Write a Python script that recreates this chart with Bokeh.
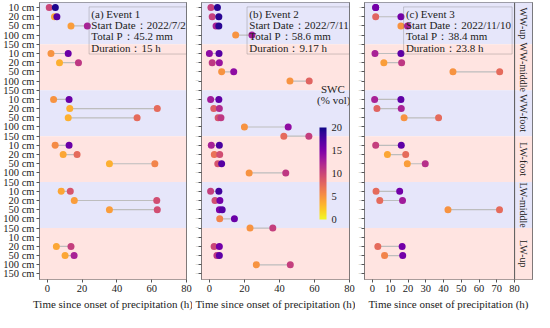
import numpy as np
from bokeh.plotting import figure
from bokeh.layouts import row
from bokeh.models import (ColumnDataSource, Range1d, FixedTicker, BoxAnnotation, Label,
                          LinearColorMapper, ColorBar, Span)
from bokeh.palettes import Plasma256
from bokeh.transform import transform
from bokeh.core.properties import value
from bokeh.embed import file_html
from bokeh.resources import INLINE

# ---------------- data ----------------
groups = ["WW-up", "WW-middle", "WW-foot", "LW-foot", "LW-middle", "LW-up"]
depths = ["10 cm", "20 cm", "50 cm", "100 cm", "150 cm"]
x_ticks_ab = [0, 20, 40, 60, 80]
x_ticks_c = [0, 10, 20, 30, 40, 50, 60, 70, 80]
swc_ticks = [0, 5, 10, 15, 20]

event_titles = ["(a) Event 1", "(b) Event 2", "(c) Event 3"]
start_dates = ["2022/7/2", "2022/7/11", "2022/11/10"]
total_p = ["45.2", "58.6", "38.4"]
durations = ["15", "9.17", "23.8"]

# Event 1
e1_group = ["WW-up", "WW-up", "WW-up", "WW-middle", "WW-middle", "WW-foot", "WW-foot", "WW-foot",
            "LW-foot", "LW-foot", "LW-foot", "LW-middle", "LW-middle", "LW-middle", "LW-up", "LW-up"]
e1_depth = ["10 cm", "20 cm", "50 cm", "10 cm", "20 cm", "10 cm", "20 cm", "50 cm",
            "10 cm", "20 cm", "50 cm", "10 cm", "20 cm", "50 cm", "20 cm", "50 cm"]
e1_t0 = [1.1, 4.1, 13.6, 2.1, 7.0, 3.6, 12.9, 12.0, 4.5, 9.1, 35.7, 8.0, 15.5, 35.7, 5.2, 10.2]
e1_t1 = [4.6, 5.5, 23.0, 12.0, 17.9, 12.5, 63.2, 51.6, 12.5, 17.1, 61.8, 13.2, 62.9, 63.2, 13.6, 15.4]
e1_s0 = [10, 4, 4.5, 5, 3.5, 5, 3.5, 3.5, 5.5, 4, 3.5, 4, 4.5, 4.5, 4, 4]
e1_s1 = [19.5, 17, 12.5, 16, 11, 16, 7.5, 7.5, 16, 7.5, 6, 9, 9.5, 9.5, 10.5, 12.5]

# Event 2
e2_group = ["WW-up", "WW-up", "WW-up", "WW-up",
            "WW-middle", "WW-middle", "WW-middle", "WW-middle",
            "WW-foot", "WW-foot", "WW-foot", "WW-foot", "WW-foot",
            "LW-foot", "LW-foot", "LW-foot", "LW-foot",
            "LW-middle", "LW-middle", "LW-middle", "LW-middle", "LW-middle",
            "LW-up", "LW-up", "LW-up"]
e2_depth = ["10 cm", "20 cm", "50 cm", "100 cm",
            "10 cm", "20 cm", "50 cm", "100 cm",
            "10 cm", "20 cm", "50 cm", "100 cm", "150 cm",
            "10 cm", "20 cm", "50 cm", "100 cm",
            "10 cm", "20 cm", "50 cm", "100 cm", "150 cm",
            "20 cm", "50 cm", "100 cm"]
e2_t0 = [0.9, 1.6, 3.8, 15.0, 0.0, 1.6, 7.0, 46.0, 0.7, 2.5, 5.0, 20.0, 42.5,
         1.1, 2.8, 4.8, 22.7, 0.7, 3.2, 5.7, 5.9, 23.2, 2.7, 4.3, 26.8]
e2_t1 = [4.6, 5.4, 5.4, 24.3, 5.5, 5.7, 13.9, 57.0, 5.4, 5.7, 6.6, 45.0, 56.8,
         5.7, 5.9, 7.0, 43.6, 5.4, 6.0, 7.3, 14.3, 36.2, 5.7, 5.7, 46.2]
e2_s0 = [10.5, 10.5, 12.5, 5, 14, 11, 5, 5, 13, 8.5, 9, 5, 7.5,
         12.5, 7, 9, 5, 10.5, 9.5, 15, 6, 5, 10, 11, 5]
e2_s1 = [19, 19, 19, 13, 17, 13.5, 14, 8, 16.5, 12, 11, 14, 10.5,
         17.5, 9.5, 17, 11, 18, 15.5, 17, 16, 10.5, 15.5, 16.5, 10.5]

# Event 3
e3_group = ["WW-up", "WW-up", "WW-up", "WW-middle", "WW-middle", "WW-middle",
            "WW-foot", "WW-foot", "WW-foot", "LW-foot", "LW-foot", "LW-foot",
            "LW-middle", "LW-middle", "LW-middle", "LW-up", "LW-up"]
e3_depth = ["10 cm", "20 cm", "50 cm", "10 cm", "20 cm", "50 cm",
            "10 cm", "20 cm", "50 cm", "10 cm", "20 cm", "50 cm",
            "10 cm", "20 cm", "50 cm", "20 cm", "50 cm"]
e3_t0 = [1.8, 1.8, 16.0, 1.4, 6.4, 45.3, 1.2, 2.5, 17.8, 1.8, 8.4, 19.6, 2.0, 4.1, 42.5, 3.0, 6.8]
e3_t1 = [1.8, 16.0, 19.7, 16.0, 16.4, 71.6, 16.0, 16.2, 37.2, 16.2, 18.7, 29.7, 15.3, 16.9, 71.5, 16.7, 17.0]
e3_s0 = [15.5, 8, 5, 12.5, 4.5, 5, 12.5, 8, 5, 10.5, 4, 4.5, 7.5, 7.5, 5, 7.5, 6]
e3_s1 = [15.5, 15.5, 12.5, 16.5, 11, 7.5, 16.5, 12.5, 7.5, 16.5, 7.5, 11.5, 15.5, 13, 7.5, 15.5, 15.5]

# ---------------- styling ----------------
FONT = "Liberation Serif"
XMIN, XMAX = -4.5, 80
Y_TOP, Y_BOT = -0.55, 29.6
BAND_COLORS = ["#e6e6fa", "#ffe4e1"]
EDGE = "#555555"
mapper = LinearColorMapper(palette=list(reversed(Plasma256)), low=0, high=20)


def rows_of(gs, ds):
    return [groups.index(g) * len(depths) + depths.index(d) for g, d in zip(gs, ds)]


def make_panel(width, border_left, border_right, xticks, gs, ds, t0, t1, s0, s1, idx,
               strip_units=0.0, ylabels=False, box_left=30.0, box_right=80.0):
    p = figure(width=width, height=312, output_backend="svg", toolbar_location=None,
               x_range=Range1d(XMIN, XMAX + strip_units), y_range=Range1d(Y_BOT, Y_TOP),
               min_border_left=border_left, min_border_right=border_right,
               min_border_top=2, min_border_bottom=0)
    p.background_fill_color = "white"
    p.border_fill_color = "white"
    p.outline_line_color = EDGE
    p.grid.visible = False

    # background bands
    n = len(depths)
    for g in range(len(groups)):
        top = n * g - 1 if g > 0 else Y_TOP - 1
        bot = n * g + n - 1 if g < len(groups) - 1 else Y_BOT + 1
        p.add_layout(BoxAnnotation(top=top, bottom=bot, fill_color=BAND_COLORS[g % 2],
                                   fill_alpha=1.0, line_color=None, level="underlay"))

    src = ColumnDataSource(dict(row=rows_of(gs, ds), t0=t0, t1=t1, s0=s0, s1=s1))
    p.segment(x0="t0", y0="row", x1="t1", y1="row", source=src,
              line_color="#bdbdbd", line_width=1.2)
    p.scatter(x="t0", y="row", source=src, size=7, line_color=None,
              fill_color=transform("s0", mapper))
    p.scatter(x="t1", y="row", source=src, size=7, line_color=None,
              fill_color=transform("s1", mapper))

    # axes
    p.xaxis.ticker = FixedTicker(ticks=xticks)
    p.xaxis.axis_label = "Time since onset of precipitation (h)"
    p.yaxis.ticker = FixedTicker(ticks=list(range(len(groups) * n)))
    p.yaxis.major_label_overrides = {i: depths[i % n] for i in range(len(groups) * n)}
    for ax in (p.xaxis, p.yaxis):
        ax.axis_line_color = None
        ax.major_tick_in = 0
        ax.major_tick_out = 3
        ax.major_tick_line_color = EDGE
        ax.minor_tick_line_color = None
        ax.major_label_text_font = FONT
        ax.major_label_text_font_size = "10.5px"
        ax.major_label_text_color = "#222222"
        ax.major_label_standoff = 2
    p.xaxis.axis_label_text_font = FONT
    p.xaxis.axis_label_text_font_size = "11px"
    p.xaxis.axis_label_text_font_style = "normal"
    p.xaxis.axis_label_text_color = "#222222"
    p.xaxis.axis_label_standoff = 3
    if not ylabels:
        p.yaxis.major_label_text_font_size = "1px"
        p.yaxis.major_label_text_color = "#777777"
        p.yaxis.major_label_standoff = 0

    # event info box
    p.add_layout(BoxAnnotation(left=box_left, right=box_right,
                               top=-0.07, bottom=5.06, fill_alpha=0.0,
                               line_color="#666666", line_width=1))
    lines = [event_titles[idx], "Start Date：" + start_dates[idx],
             "Total P：" + total_p[idx] + " mm", "Duration：" + durations[idx] + " h"]
    for txt, yy in zip(lines, [0.65, 1.88, 3.11, 4.44]):
        p.add_layout(Label(x=box_left + 1.3, y=yy, text=txt, text_font=FONT,
                           text_font_size="11px", text_color="#222222",
                           text_baseline="middle", text_align="left"))
    return p


STRIP_UNITS = 84.5 * 18 / 151

pa = make_panel(192, 34, 6, x_ticks_ab, e1_group, e1_depth, e1_t0, e1_t1, e1_s0, e1_s1, 0,
                ylabels=True, box_left=24.0)
pb = make_panel(163, 4, 6, x_ticks_ab, e2_group, e2_depth, e2_t0, e2_t1, e2_s0, e2_s1, 1,
                box_left=21.5)
pc = make_panel(178, 8, 1, x_ticks_c, e3_group, e3_depth, e3_t0, e3_t1, e3_s0, e3_s1, 2,
                strip_units=STRIP_UNITS, box_left=17.5, box_right=78.6)

# colour bar in panel b
cb = ColorBar(color_mapper=mapper, ticker=FixedTicker(ticks=swc_ticks), width=7, height=92,
              location=(118, 60), orientation="vertical", padding=0, margin=0,
              major_tick_line_color=None, bar_line_color=None,
              major_label_text_font=FONT, major_label_text_font_size="10.5px",
              major_label_text_color="#222222", label_standoff=5,
              background_fill_alpha=0.0, border_line_color=None)
pb.add_layout(cb, "center")
pb.add_layout(Label(x=70.5, y=8.85, text="SWC", text_font=FONT, text_font_size="11px",
                    text_align="center", text_baseline="middle", text_color="#222222"))
pb.add_layout(Label(x=71.0, y=10.05, text="(% vol)", text_font=FONT, text_font_size="11px",
                    text_align="center", text_baseline="middle", text_color="#222222"))

# group strip on right of panel c
pc.add_layout(Span(location=XMAX, dimension="height", line_color=EDGE, line_width=1))
n = len(depths)
centers = []
for g in range(len(groups)):
    top = n * g - 1 if g > 0 else Y_TOP
    bot = n * g + n - 1 if g < len(groups) - 1 else Y_BOT
    centers.append((top + bot) / 2)
strip_src = ColumnDataSource(dict(x=[XMAX + STRIP_UNITS / 2] * len(groups), y=centers, t=groups))
pc.text(x="x", y="y", text="t", source=strip_src, angle=-np.pi / 2,
        text_font=value(FONT), text_font_size="10px", text_color="#222222",
        text_align="center", text_baseline="middle")

layout = row(pa, pb, pc)
open("out.html", "w").write(file_html(layout, INLINE))
